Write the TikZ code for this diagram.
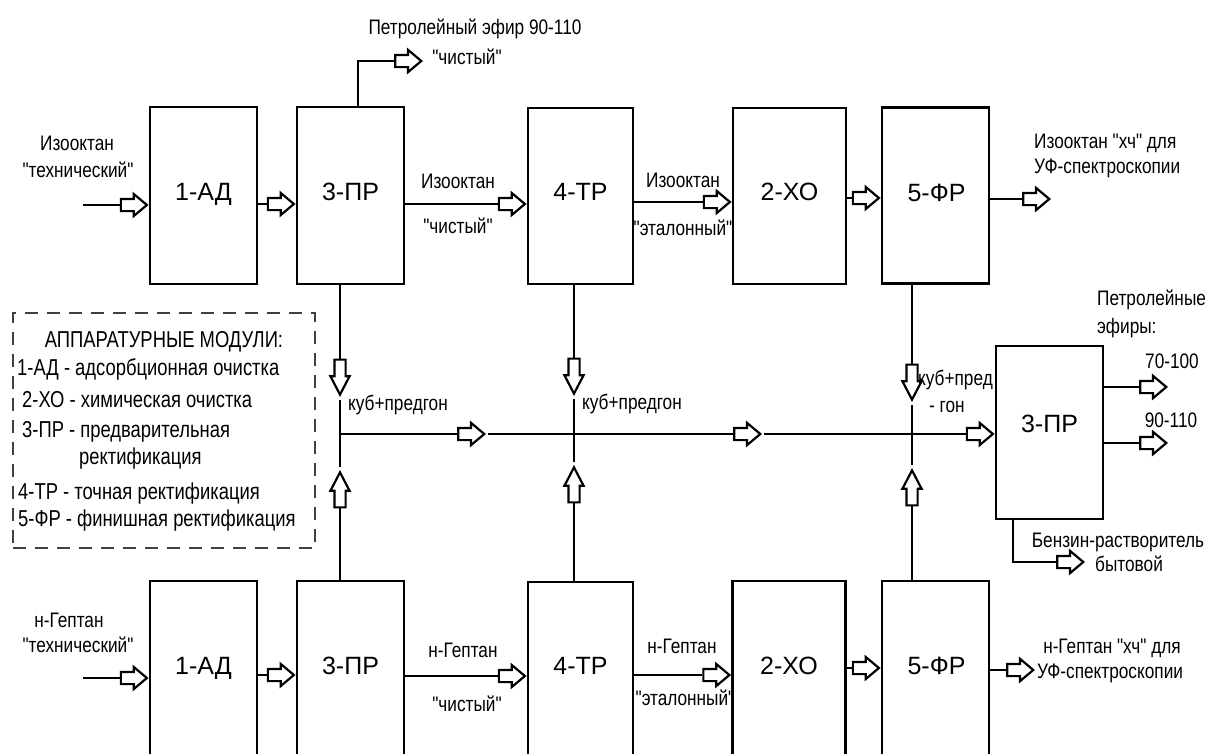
\documentclass[tikz,border=0pt]{standalone}
\usepackage{fontspec}
\setmainfont{Liberation Sans}
\newfontfamily\nf[FakeStretch=0.82]{Liberation Sans}
\newfontfamily\lf[FakeStretch=0.80]{Liberation Sans}
\usetikzlibrary{shapes.arrows}
\begin{document}
\begin{tikzpicture}[x=1pt,y=-1pt,
  blk/.style={draw, line width=2.8pt, inner sep=0pt},
  blab/.style={font=\fontsize{25}{30}\selectfont, inner sep=0pt, anchor=base},
  lab/.style={font=\nf\fontsize{21}{24}\selectfont, inner sep=0pt, anchor=base},
  labw/.style={lab, anchor=base west},
  leg/.style={font=\lf\fontsize{23}{27}\selectfont, inner sep=0pt, anchor=base west},
  conn/.style={line width=2.8pt},
  harr/.style={single arrow, draw, fill=white, line width=2.2pt, minimum height=26pt,
    single arrow tip angle=80, single arrow head extend=5pt, inner xsep=0pt, inner ysep=5pt, anchor=tip},
  varr/.style={harr, minimum height=35pt, single arrow tip angle=55, single arrow head extend=4pt, inner ysep=4.5pt}
]
\useasboundingbox (0,0) rectangle (1208,753);
\fill[white] (0,0) rectangle (1208,753);
\clip (0,0) rectangle (1208,753);

% ---------- top row boxes
\node[blk, minimum width=107pt, minimum height=177pt] (t1) at (203.5,195.5) {};
\node[blk, minimum width=107pt, minimum height=177pt] (t3) at (350.5,195.5) {};
\node[blk, minimum width=105pt, minimum height=176pt] (t4) at (580.5,196) {};
\node[blk, minimum width=113pt, minimum height=176pt] (t2) at (789.5,196) {};
\node[blk, minimum width=107pt, minimum height=176pt] (t5) at (935.5,195.5) {};
\node[blab] (lt1) at (203.5,200) {1-АД};
\node[blab] (lt3) at (350.5,200) {3-ПР};
\node[blab] (lt4) at (580.5,200) {4-ТР};
\node[blab] (lt2) at (789.5,200) {2-ХО};
\node[blab] (lt5) at (936.5,201) {5-ФР};

% ---------- bottom row boxes
\node[blk, minimum width=107pt, minimum height=219pt] (b1) at (203.5,690.5) {};
\node[blk, minimum width=107pt, minimum height=219pt] (b3) at (350.5,690.5) {};
\node[blk, minimum width=105pt, minimum height=217pt] (b4) at (580.5,690.5) {};
\node[blk, minimum width=113pt, minimum height=219pt] (b2) at (789,690.5) {};
\node[blk, minimum width=107pt, minimum height=219pt] (b5) at (935.5,690.5) {};
\node[blab] (lb1) at (203.5,674) {1-АД};
\node[blab] (lb3) at (350.5,674) {3-ПР};
\node[blab] (lb4) at (580.5,674) {4-ТР};
\node[blab] (lb2) at (789,674) {2-ХО};
\node[blab] (lb5) at (936.5,674) {5-ФР};

% ---------- right 3-PR
\node[blk, minimum width=107pt, minimum height=173pt] (r3) at (1049.5,432.5) {};
\node[blab] (lr3) at (1049.5,432) {3-ПР};

% ---------- top row flows
\coordinate (inT) at (83,205);
\node[harr] (aT1) at (t1.west |- inT) {};
\draw[conn] (inT) -- (aT1.tail);
\coordinate (yT2) at (0,204);
\node[harr] (aT2) at (t3.west |- yT2) {};
\draw[conn] (t1.east |- yT2) -- (aT2.tail);
\coordinate (yT3) at (0,204);
\node[harr] (aT3) at (t4.west |- yT3) {};
\draw[conn] (t3.east |- yT3) -- (aT3.tail);
\coordinate (yT4) at (0,202);
\node[harr] (aT4) at (t2.west |- yT4) {};
\draw[conn] (t4.east |- yT4) -- (aT4.tail);
\coordinate (yT5) at (0,198);
\node[harr] (aT5) at (t5.west |- yT5) {};
\draw[conn] (t2.east |- yT5) -- (aT5.tail);
\coordinate (oT) at (1051,199);
\node[harr] (aT6) at (oT) {};
\draw[conn] (t5.east |- oT) -- (aT6.tail);

% petroleum ether from top 3-PR
\coordinate (peK) at (358,61);
\coordinate (pe) at (423,61);
\node[harr] (ape) at (pe) {};
\draw[conn] (t3.north -| peK) -- (peK) -- (ape.tail);

% ---------- bottom row flows
\coordinate (inB) at (83,678);
\node[harr] (aB1) at (b1.west |- inB) {};
\draw[conn] (inB) -- (aB1.tail);
\coordinate (yB2) at (0,675);
\node[harr] (aB2) at (b3.west |- yB2) {};
\draw[conn] (b1.east |- yB2) -- (aB2.tail);
\coordinate (yB3) at (0,676);
\node[harr] (aB3) at (b4.west |- yB3) {};
\draw[conn] (b3.east |- yB3) -- (aB3.tail);
\coordinate (yB4) at (0,675);
\node[harr] (aB4) at (b2.west |- yB4) {};
\draw[conn] (b4.east |- yB4) -- (aB4.tail);
\coordinate (yB5) at (0,668);
\node[harr] (aB5) at (b5.west |- yB5) {};
\draw[conn] (b2.east |- yB5) -- (aB5.tail);
\coordinate (oB) at (1035,670);
\node[harr] (aB6) at (oB) {};
\draw[conn] (b5.east |- oB) -- (aB6.tail);

% ---------- verticals and collector line
\coordinate (jL) at (340,434);
\coordinate (jM) at (574,434);
\coordinate (jR) at (912,434);
\node[varr, rotate=-90] (dL) at (340,397) {};
\node[varr, rotate=90] (uL) at (340,470) {};
\draw[conn] (t3.south -| jL) -- (dL.tail);
\draw[conn] (b3.north -| jL) -- (uL.tail);
\draw[conn] ([yshift=-3pt]dL.tip) -- ([yshift=3pt]uL.tip);
\node[varr, rotate=-90] (dM) at (574,396) {};
\node[varr, rotate=90] (uM) at (574,465) {};
\draw[conn] (t4.south -| jM) -- (dM.tail);
\draw[conn] (b4.north -| jM) -- (uM.tail);
\draw[conn] ([yshift=-3pt]dM.tip) -- ([yshift=3pt]uM.tip);
\node[varr, rotate=-90] (dR) at (912,402) {};
\node[varr, rotate=90] (uR) at (912,468) {};
\draw[conn] (t5.south -| jR) -- (dR.tail);
\draw[conn] (b5.north -| jR) -- (uR.tail);
\draw[conn] ([yshift=-3pt]dR.tip) -- ([yshift=3pt]uR.tip);

\node[harr] (h1) at (486,434) {};
\node[harr] (h2) at (762,434) {};
\node[harr] (h3) at (r3.west |- jL) {};
\draw[conn] (jL) -- (h1.tail);
\draw[conn] ([xshift=2pt]h1.tip) -- (h2.tail);
\draw[conn] ([xshift=2pt]h2.tip) -- (h3.tail);

% ---------- right 3-PR outputs
\coordinate (o70) at (1168,387);
\node[harr] (a70) at (o70) {};
\draw[conn] (r3.east |- o70) -- (a70.tail);
\coordinate (o90) at (1168,443);
\node[harr] (a90) at (o90) {};
\draw[conn] (r3.east |- o90) -- (a90.tail);
\coordinate (bzK) at (1013,562);
\coordinate (bz) at (1085,562);
\node[harr] (abz) at (bz) {};
\draw[conn] (r3.south -| bzK) -- (bzK) -- (abz.tail);

% ---------- flow labels (top)
\node[lab] (l1a) at (77,150) {Изооктан};
\node[lab] (l1b) at (78,177) {"технический"};
\node[lab] (pe1) at (475,34) {Петролейный эфир 90-110};
\node[lab] (pe2) at (467,64) {"чистый"};
\node[lab] (l2a) at (458,188) {Изооктан};
\node[lab] (l2b) at (458,233) {"чистый"};
\node[lab] (l3a) at (683,187) {Изооктан};
\node[lab] (l3b) at (683,235) {"эталонный"};
\node[labw] (l4a) at (1034,148) {Изооктан "хч" для};
\node[labw] (l4b) at (1034,173) {УФ-спектроскопии};
\node[lab] (k1) at (398,410) {куб+предгон};
\node[lab] (k2) at (632,409) {куб+предгон};
\node[labw] (k3a) at (918,385) {куб+пред};
\node[labw] (k3b) at (929,412) {- гон};
\node[labw] (pt1) at (1097,305) {Петролейные};
\node[labw] (pt2) at (1097,333) {эфиры:};
\node[lab] (n70) at (1172,368) {70-100};
\node[lab] (n90) at (1171,427) {90-110};
\node[lab] (bz1) at (1118,547) {Бензин-растворитель};
\node[labw] (bz2) at (1095,571) {бытовой};

% ---------- flow labels (bottom)
\node[lab] (m1a) at (69,627) {н-Гептан};
\node[lab] (m1b) at (78,652) {"технический"};
\node[lab] (m2a) at (463,657) {н-Гептан};
\node[lab] (m2b) at (467,711) {"чистый"};
\node[lab] (m3a) at (682,653) {н-Гептан};
\node[lab] (m3b) at (685,705) {"эталонный"};
\node[lab] (m4a) at (1112,653) {н-Гептан "хч" для};
\node[lab] (m4b) at (1110,678) {УФ-спектроскопии};

% ---------- legend
\node[draw=black!75, line width=1.3pt, dash pattern=on 13pt off 9pt, minimum width=302pt, minimum height=235pt, inner sep=0pt] (legend) at (164,430.5) {};
\node[leg, anchor=base] (lg0) at (164,347) {АППАРАТУРНЫЕ МОДУЛИ:};
\node[leg] (lg1) at (17,375) {1-АД - адсорбционная очистка};
\node[leg] (lg2) at (22,407) {2-ХО - химическая очистка};
\node[leg] (lg3) at (22,437) {3-ПР - предварительная};
\node[leg] (lg3b) at (79,464) {ректификация};
\node[leg] (lg4) at (18,499) {4-ТР - точная ректификация};
\node[leg] (lg5) at (18,526) {5-ФР - финишная ректификация};
\end{tikzpicture}
\end{document}
